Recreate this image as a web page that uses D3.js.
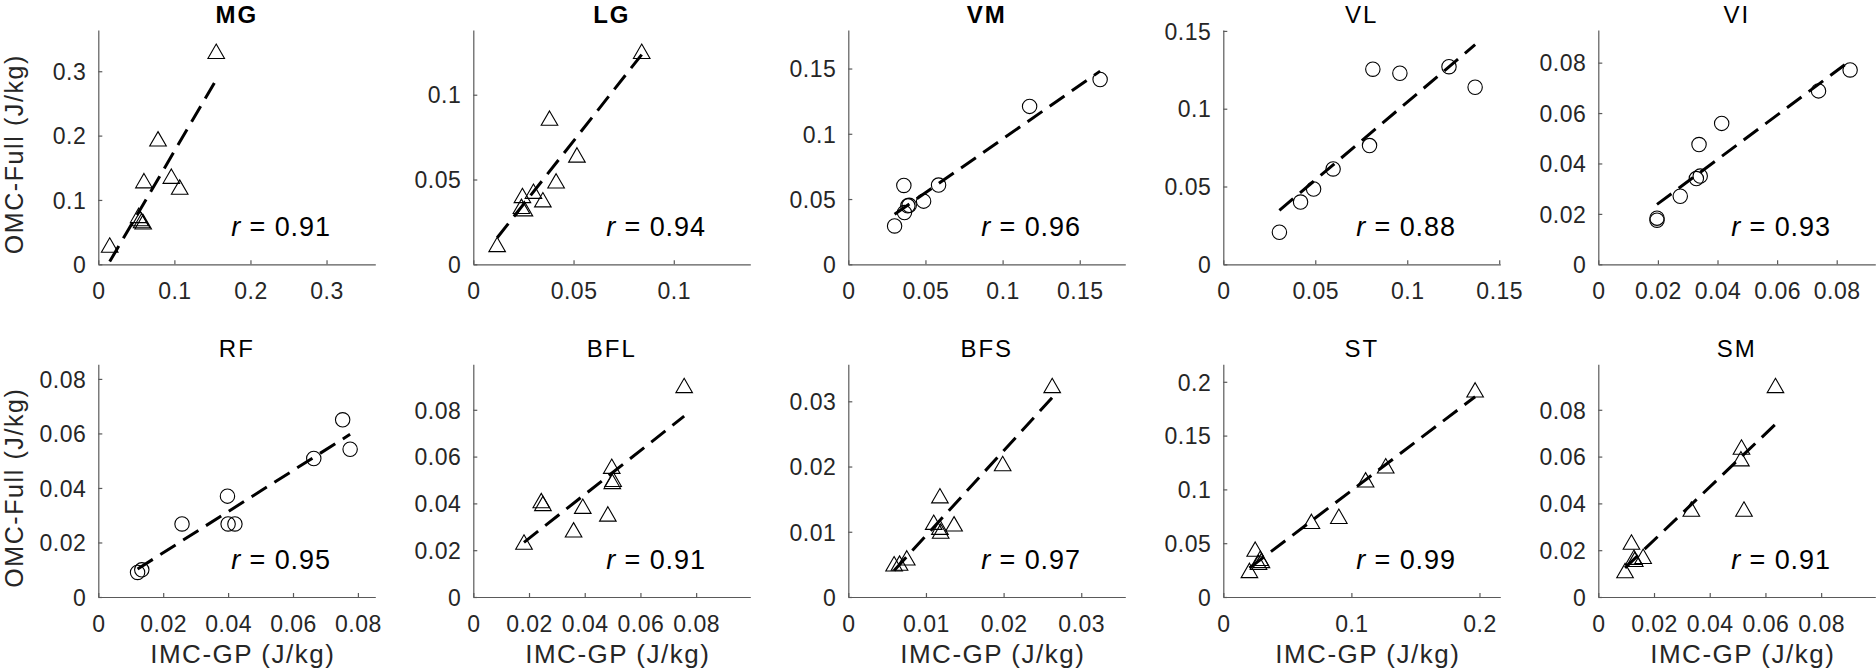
<!DOCTYPE html>
<html><head><meta charset="utf-8">
<script src="https://cdn.jsdelivr.net/npm/d3@7"></script>
<style>
body{margin:0;background:#fff}
svg{display:block}
text{font-family:"Liberation Sans",Arial,Helvetica,sans-serif}
</style>
</head><body>
<svg id="chart" width="1876" height="672"></svg>
<script>
// ---------------- DATA ----------------
const muscles = ["MG","LG","VM","VL","VI","RF","BFL","BFS","ST","SM"];
const rValues = ["0.91","0.94","0.96","0.88","0.93","0.95","0.91","0.97","0.99","0.91"];

// IMC-GP (x) and OMC-Full (y), J/kg
const imcMG = [0.155,0.0785,0.060,0.096,0.107,0.053,0.055,0.057,0.059,0.015];
const omcMG = [0.331,0.195,0.130,0.137,0.120,0.076,0.071,0.068,0.066,0.030];
const imcLG = [0.084,0.038,0.0517,0.0413,0.030,0.0245,0.0347,0.024,0.0255,0.0119];
const omcLG = [0.1256,0.0862,0.0645,0.0492,0.0431,0.0406,0.0381,0.0342,0.0328,0.0117];
const imcVM = [0.1632,0.1175,0.0585,0.036,0.0488,0.0386,0.0395,0.0364,0.030];
const omcVM = [0.1416,0.121,0.0607,0.0604,0.0484,0.0448,0.0452,0.0396,0.0294];
const imcVL = [0.0813,0.096,0.1227,0.1369,0.0795,0.0597,0.0491,0.042,0.0305];
const omcVL = [0.1254,0.1228,0.127,0.1138,0.0763,0.0613,0.0484,0.040,0.0206];
const imcVI = [0.0845,0.0739,0.0414,0.0338,0.0342,0.0329,0.0275,0.0197,0.0197];
const omcVI = [0.0771,0.0688,0.0559,0.0475,0.035,0.034,0.027,0.0183,0.0175];
const imcRF = [0.0753,0.0776,0.0664,0.0398,0.0258,0.040,0.0421,0.0134,0.0121];
const omcRF = [0.065,0.0542,0.0508,0.037,0.0268,0.0268,0.0268,0.00996,0.0090];
const imcBFL = [0.0757,0.0497,0.0499,0.0502,0.0244,0.025,0.0393,0.0483,0.036,0.0182];
const omcBFL = [0.0904,0.0559,0.0494,0.0503,0.0412,0.040,0.0388,0.0355,0.0287,0.0235];
const imcBFS = [0.02626,0.01988,0.0118,0.0110,0.01362,0.0118,0.0119,0.00753,0.0066,0.0059];
const omcBFS = [0.03243,0.02046,0.01553,0.01147,0.01122,0.0107,0.0101,0.0060,0.0052,0.0051];
const imcST = [0.1966,0.1268,0.1111,0.0688,0.0902,0.0249,0.0288,0.0298,0.0275,0.0204];
const omcST = [0.1925,0.122,0.1089,0.0703,0.075,0.0445,0.036,0.034,0.0322,0.0247];
const imcSM = [0.0636,0.0514,0.0512,0.0523,0.0334,0.0119,0.0161,0.0131,0.0128,0.0096];
const omcSM = [0.0904,0.0641,0.0591,0.0376,0.0376,0.0235,0.0174,0.0161,0.0170,0.0113];

const imcAll = [imcMG,imcLG,imcVM,imcVL,imcVI,imcRF,imcBFL,imcBFS,imcST,imcSM];
const omcAll = [omcMG,omcLG,omcVM,omcVL,omcVI,omcRF,omcBFL,omcBFS,omcST,omcSM];

// tick values per panel (x and y)
const xTicks = [
  [0,0.1,0.2,0.3],[0,0.05,0.1],[0,0.05,0.1,0.15],[0,0.05,0.1,0.15],[0,0.02,0.04,0.06,0.08],
  [0,0.02,0.04,0.06,0.08],[0,0.02,0.04,0.06,0.08],[0,0.01,0.02,0.03],[0,0.1,0.2],[0,0.02,0.04,0.06,0.08]
];
const yTicks = [
  [0,0.1,0.2,0.3],[0,0.05,0.1],[0,0.05,0.1,0.15],[0,0.05,0.1,0.15],[0,0.02,0.04,0.06,0.08],
  [0,0.02,0.04,0.06,0.08],[0,0.02,0.04,0.06,0.08],[0,0.01,0.02,0.03],[0,0.05,0.1,0.15,0.2],[0,0.02,0.04,0.06,0.08]
];
const xLabel = "IMC-GP (J/kg)";
const yLabel = "OMC-Full (J/kg)";

// ---------------- STYLE / LAYOUT ----------------
const triangleMuscles = ["MG","LG","BFL","BFS","ST","SM"];
const boldTitles = ["MG","LG","VM"];
const plotW = 277;
const left0 = 98.3, colStep = 375;
const rowsTB = [[30, 264.3],[364.3, 597]];
const axisColor = "#5a5a5a";
const textColor = "#262626";
const fmt = v => v === 0 ? "0" : String(+v.toFixed(4));

const svg = d3.select("#chart");

muscles.forEach((name, i) => {
  const col = i % 5, row = Math.floor(i / 5);
  const L = left0 + col * colStep;
  const [T, B] = rowsTB[row];
  const xv = imcAll[i], yv = omcAll[i];
  const lim = 1.1 * Math.max(d3.max(xv), d3.max(yv));
  const xs = d3.scaleLinear().domain([0, lim]).range([L, L + plotW]);
  const ys = d3.scaleLinear().domain([0, lim]).range([B, T]);
  const g = svg.append("g");

  // x axis
  const gx = g.append("g").attr("transform", `translate(0,${B})`)
    .call(d3.axisBottom(xs).tickValues(xTicks[i]).tickFormat(fmt).tickSizeInner(-4).tickSizeOuter(0));
  gx.attr("font-family", null).attr("font-size", null);
  gx.select(".domain").attr("stroke", axisColor).attr("stroke-width", 1.2);
  gx.selectAll(".tick line").attr("stroke", axisColor).attr("stroke-width", 1.2);
  gx.selectAll(".tick text").attr("y", 35).attr("dy", null)
    .attr("fill", textColor).style("font-size", "23px").style("letter-spacing", "0.5px");

  // y axis
  const gy = g.append("g").attr("transform", `translate(${L},0)`)
    .call(d3.axisLeft(ys).tickValues(yTicks[i]).tickFormat(fmt).tickSizeInner(-4).tickSizeOuter(0));
  gy.attr("font-family", null).attr("font-size", null);
  gy.select(".domain").attr("stroke", axisColor).attr("stroke-width", 1.2);
  gy.selectAll(".tick line").attr("stroke", axisColor).attr("stroke-width", 1.2);
  gy.selectAll(".tick text").attr("x", -12).attr("dy", "0.36em")
    .attr("fill", textColor).style("font-size", "23px").style("letter-spacing", "0.5px");

  // regression line (least squares over the data), from min x to max x
  const mx = d3.mean(xv), my = d3.mean(yv);
  let sxy = 0, sxx = 0;
  xv.forEach((x, k) => { sxy += (x - mx) * (yv[k] - my); sxx += (x - mx) * (x - mx); });
  const slope = sxy / sxx, icpt = my - slope * mx;
  const x0 = d3.min(xv), x1 = d3.max(xv);
  g.append("line")
    .attr("x1", xs(x0)).attr("y1", ys(icpt + slope * x0))
    .attr("x2", xs(x1)).attr("y2", ys(icpt + slope * x1))
    .attr("stroke", "#000").attr("stroke-width", 3).attr("stroke-dasharray", "18 9");

  // markers
  const pts = xv.map((x, k) => [x, yv[k]]);
  if (triangleMuscles.includes(name)) {
    g.selectAll("path.mk").data(pts).join("path").attr("class", "mk")
      .attr("d", d => {
        const cx = xs(d[0]), cy = ys(d[1]);
        return `M${cx},${cy - 7.2}L${cx + 8.3},${cy + 7.2}L${cx - 8.3},${cy + 7.2}Z`;
      })
      .attr("fill", "none").attr("stroke", "#000").attr("stroke-width", 1.1);
  } else {
    g.selectAll("circle.mk").data(pts).join("circle").attr("class", "mk")
      .attr("cx", d => xs(d[0])).attr("cy", d => ys(d[1])).attr("r", 7.2)
      .attr("fill", "none").attr("stroke", "#000").attr("stroke-width", 1.1);
  }

  // title
  g.append("text").attr("x", L + plotW / 2).attr("y", T - 7.5)
    .attr("text-anchor", "middle").attr("fill", "#000")
    .style("font-size", "24px").style("letter-spacing", "2px")
    .style("font-weight", boldTitles.includes(name) ? "bold" : "normal")
    .text(name);

  // r annotation
  const rt = g.append("text").attr("x", L + 133).attr("y", B - 28)
    .attr("fill", "#000").style("font-size", "27px").style("letter-spacing", "0.9px");
  rt.append("tspan").style("font-style", "italic").text("r");
  rt.append("tspan").text(" = " + rValues[i]);

  // axis labels
  if (row === 1) {
    g.append("text").attr("x", L + plotW / 2 + 6).attr("y", B + 66)
      .attr("text-anchor", "middle").attr("fill", textColor)
      .style("font-size", "26px").style("letter-spacing", "1.5px").text(xLabel);
  }
  if (col === 0) {
    g.append("text").attr("transform", `translate(23,${(T + B) / 2 + 7}) rotate(-90)`)
      .attr("text-anchor", "middle").attr("fill", textColor)
      .style("font-size", "25px").style("letter-spacing", "1.6px").text(yLabel);
  }
});
</script>
</body></html>
